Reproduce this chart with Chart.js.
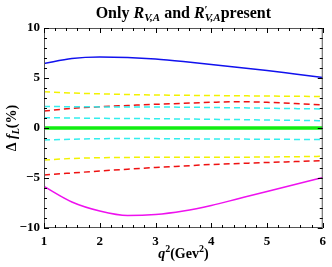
<!DOCTYPE html>
<html>
<head>
<meta charset="utf-8">
<script src="https://cdn.jsdelivr.net/npm/chart.js@4"></script>
<style>
html,body{margin:0;padding:0;background:#fff;}
#wrap{width:332px;height:267px;position:relative;}
</style>
</head>
<body>
<div id="wrap"><canvas id="chart1" width="332" height="267"></canvas></div>
<script>
// q^2 grid (GeV^2)
const q2 = [1, 1.5, 2, 2.5, 3, 3.5, 4, 4.5, 5, 5.5, 6]

// curves
const blueLine    = [6.45, 6.95, 7.1, 7.05, 6.9, 6.65, 6.35, 6.05, 5.75, 5.4, 5.05]
const magentaLine = [-5.85, -7.4, -8.3, -8.75, -8.65, -8.3, -7.75, -7.05, -6.35, -5.65, -4.95]
const redUpper    = [1.7, 1.97, 2.13, 2.25, 2.37, 2.47, 2.57, 2.63, 2.57, 2.45, 2.3]
const redLower    = [-4.7, -4.5, -4.3, -4.12, -3.95, -3.8, -3.65, -3.55, -3.45, -3.36, -3.27]
const yellowUpper = [3.63, 3.5, 3.42, 3.35, 3.3, 3.27, 3.25, 3.22, 3.2, 3.17, 3.15]
const yellowLower = [-3.2, -3.05, -2.97, -2.94, -2.92, -2.93, -2.93, -2.92, -2.9, -2.87, -2.83]
const cyanOuter   = [2.15, 2.13, 2.11, 2.1, 2.1, 2.08, 2.05, 2.02, 1.98, 1.94, 1.9]
const cyanInner   = [1.03, 1.0, 0.97, 0.95, 0.93, 0.9, 0.87, 0.84, 0.8, 0.77, 0.73]
const cyanLower   = [-1.2, -1.12, -1.07, -1.05, -1.06, -1.08, -1.1, -1.11, -1.12, -1.14, -1.15]
const greenLine   = [0, 0, 0, 0, 0, 0, 0, 0, 0, 0, 0]

const xTicks = [1, 2, 3, 4, 5, 6]
const yTicks = [-10, -5, 0, 5, 10]

function pts(arr){ return arr.map((v,i)=>({x:q2[i], y:v})) }

function line(data, color, dash, width){
  return {data:pts(data), borderColor:color, borderWidth:width||1.5, borderDash:dash||[],
    pointRadius:0, fill:false, tension:0.4, cubicInterpolationMode:'monotone'}
}

const datasets = [
  line(yellowUpper, '#f2f200', [6,4]),
  line(yellowLower, '#f2f200', [6,4]),
  line(cyanOuter, '#33eeee', [6,4]),
  line(cyanInner, '#33eeee', [6,4]),
  line(cyanLower, '#33eeee', [6,4]),
  line(redUpper, '#ee1111', [6,4]),
  line(redLower, '#ee1111', [6,4]),
  line(greenLine, '#11ee11', [], 3.5),
  line(blueLine, '#1111ee', [], 1.5),
  line(magentaLine, '#ee11ee', [], 1.5),
]

const serif = '"Liberation Serif","DejaVu Serif",serif'

// draw a run of styled text pieces, centred on cx
function runText(ctx, parts, cx, y){
  let w = 0
  parts.forEach(p=>{ ctx.font=p[1]; w += ctx.measureText(p[0]).width + (p[3]||0) })
  let x = cx - w/2
  parts.forEach(p=>{
    ctx.font=p[1]
    ctx.fillText(p[0], x, y+p[2])
    x += ctx.measureText(p[0]).width + (p[3]||0)
  })
}

// frame, inward ticks and the texts around the plot
const decor = {
  id:'decor',
  afterDraw(chart){
    const ctx = chart.ctx, a = chart.chartArea
    const xs = chart.scales.x, ys = chart.scales.y
    ctx.save()
    ctx.strokeStyle = '#555'
    ctx.lineWidth = 1
    ctx.strokeRect(a.left+0.5, a.top+0.5, a.right-a.left-1, a.bottom-a.top-1)
    ctx.strokeStyle = '#000'
    ctx.beginPath()
    for(let v=1; v<=6.001; v+=0.2){
      const px = Math.round(xs.getPixelForValue(v))+0.5
      const major = Math.abs(v-Math.round(v))<0.01
      const l = major?5:3
      ctx.moveTo(px,a.bottom); ctx.lineTo(px,a.bottom-l)
      ctx.moveTo(px,a.top); ctx.lineTo(px,a.top+l)
    }
    for(let v=-10; v<=10; v+=1){
      const py = Math.round(ys.getPixelForValue(v))+0.5
      const l = (v%5===0)?5:3
      ctx.moveTo(a.left,py); ctx.lineTo(a.left+l,py)
      ctx.moveTo(a.right,py); ctx.lineTo(a.right-l,py)
    }
    ctx.stroke()

    ctx.fillStyle = '#000'
    ctx.textBaseline = 'alphabetic'
    const cx = (a.left+a.right)/2

    // title
    runText(ctx, [
      ['Only ', 'bold 16px '+serif, 0],
      ['R', 'italic bold 16px '+serif, 0],
      ['V,A', 'italic bold 11px '+serif, 3],
      [' and ', 'bold 16px '+serif, 0],
      ['R', 'italic bold 16px '+serif, 0],
      ['\u2032', 'bold 11px '+serif, -5, -3],
      ['V,A', 'italic bold 11px '+serif, 3],
      ['present', 'bold 16px '+serif, 0],
    ], cx, 18)

    // x label
    runText(ctx, [
      ['q', 'italic bold 14px '+serif, 0],
      ['2', 'bold 10px '+serif, -6],
      ['(Gev', 'bold 14px '+serif, 0],
      ['2', 'bold 10px '+serif, -6],
      [')', 'bold 14px '+serif, 0]
    ], cx, 258)

    // y label
    ctx.translate(16, (a.top+a.bottom)/2)
    ctx.rotate(-Math.PI/2)
    runText(ctx, [
      ['\u0394 ', 'bold 14px '+serif, 0],
      ['f', 'italic bold 14px '+serif, 0],
      ['L', 'italic bold 10px '+serif, 3],
      ['(%)', 'bold 14px '+serif, 0]
    ], 0, 0)
    ctx.restore()
  }
}

new Chart(document.getElementById('chart1'), {
  type:'line',
  data:{datasets:datasets},
  options:{
    animation:false,
    responsive:false,
    layout:{padding:{top:28, right:5, left:0, bottom:0}},
    plugins:{legend:{display:false}, title:{display:false}, tooltip:{enabled:false}},
    scales:{
      x:{type:'linear', min:1, max:6,
        afterFit(s){ s.height = 39 },
        afterBuildTicks(s){ s.ticks = xTicks.map(v=>({value:v})) },
        grid:{display:false, drawTicks:false}, border:{display:false},
        ticks:{color:'#000', padding:6, maxRotation:0, font:{family:serif, size:13, weight:'bold'}}},
      y:{min:-10, max:10,
        afterFit(s){ s.width = 44 },
        afterBuildTicks(s){ s.ticks = yTicks.map(v=>({value:v})) },
        grid:{display:false, drawTicks:false}, border:{display:false},
        ticks:{color:'#000', padding:4, font:{family:serif, size:13, weight:'bold'},
          callback:v=> v<0 ? '\u2212'+(-v) : ''+v}}
    }
  },
  plugins:[decor]
})
</script>
</body>
</html>
